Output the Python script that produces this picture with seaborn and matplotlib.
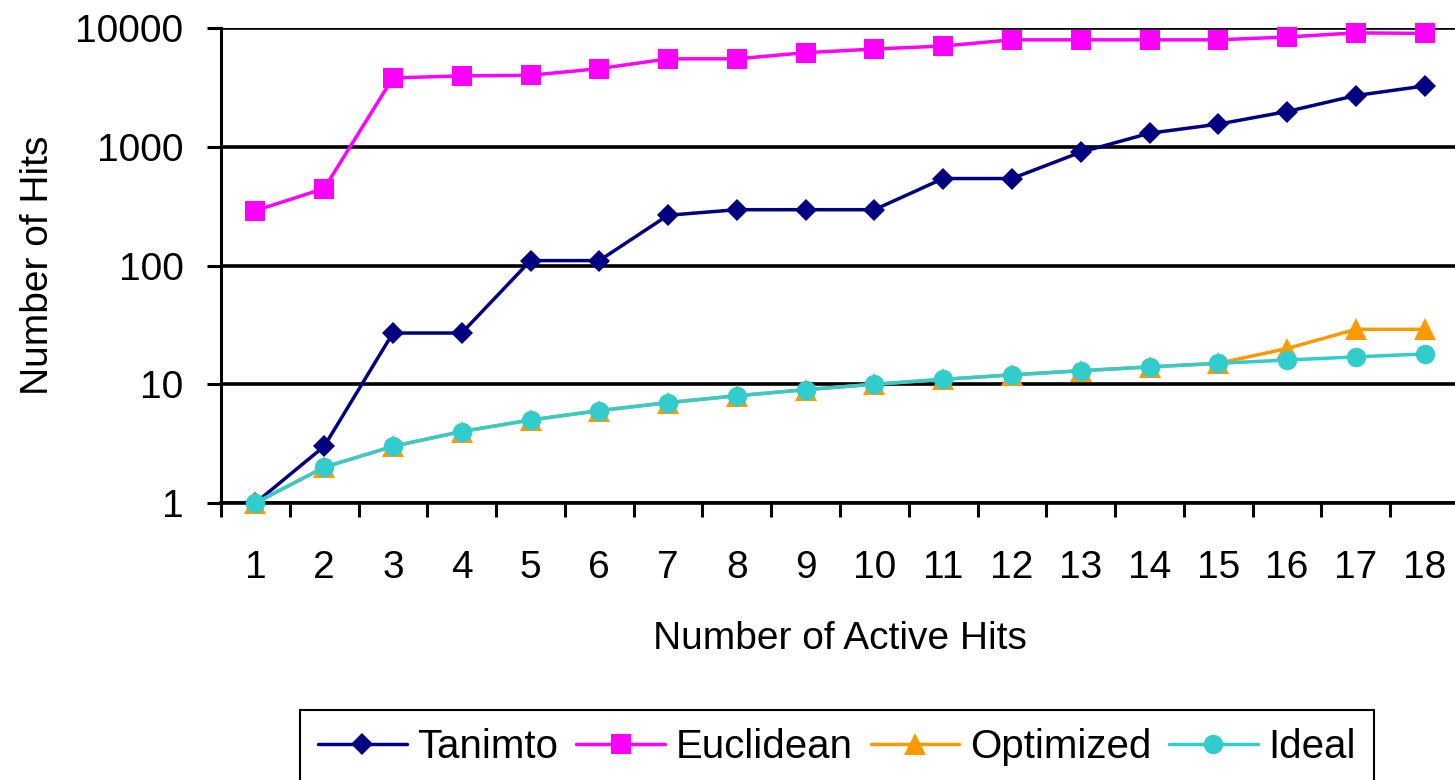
import numpy as np
import pandas as pd
import seaborn as sns
import matplotlib.pyplot as plt
from matplotlib.ticker import FixedLocator, NullFormatter

active_hits = list(range(1, 19))
tanimoto = [1, 3, 27, 27, 110, 110, 265, 295, 295, 295, 540, 540, 900, 1300, 1550, 1980, 2700, 3250]
euclidean = [290, 445, 3800, 3950, 4000, 4550, 5500, 5500, 6200, 6650, 7050, 7950, 7950, 7950, 7950, 8400, 9100, 9000]
optimized = [1, 2, 3, 4, 5, 6, 7, 8, 9, 10, 11, 12, 13, 14, 15, 20, 29, 29]
ideal = [1, 2, 3, 4, 5, 6, 7, 8, 9, 10, 11, 12, 13, 14, 15, 16, 17, 18]

series_names = ['Tanimto', 'Euclidean', 'Optimized', 'Ideal']
series_values = [tanimoto, euclidean, optimized, ideal]
colors = ['#000080', '#FF00FF', '#FF9900', '#33CCCC']
markers = ['D', 's', '^', 'o']
marker_sizes = [11, 14, 16, 14]

sns.set_style('white')
plt.rcParams['font.family'] = ['Liberation Sans', 'DejaVu Sans']
plt.rcParams['text.color'] = 'black'
plt.rcParams['axes.labelcolor'] = 'black'

W, H = 1455, 780
fig = plt.figure(figsize=(W / 100, H / 100), dpi=100)
# plot area: left axis at x=221, 18 categories of ~68.8 px, y from 28 to 503
ax = fig.add_axes([221 / W, 1 - 503 / H, 1238 / W, 475 / H])

for name, vals, col, mk, ms in zip(series_names, series_values, colors,
                                    markers, marker_sizes):
    df = pd.DataFrame({'x': active_hits, 'y': vals})
    sns.lineplot(data=df, x='x', y='y', ax=ax, color=col, marker=mk,
                 markersize=ms, markeredgewidth=0, linewidth=2.5,
                 label=name, clip_on=False, zorder=3)

ax.set_yscale('log')
ax.set_ylim(1, 10000)
ax.set_xlim(0.5, 18.5)

ax.set_yticks([1, 10, 100, 1000, 10000])
ax.set_yticklabels(['1', '10', '100', '1000', '10000'])
ax.yaxis.set_minor_locator(FixedLocator([]))
ax.yaxis.grid(True, which='major', color='black', linewidth=2.6)
ax.set_axisbelow(True)

ax.set_xticks(active_hits)
ax.set_xticklabels([str(v) for v in active_hits])
ax.xaxis.set_minor_locator(FixedLocator(np.arange(0.5, 19, 1.0)))
ax.xaxis.set_minor_formatter(NullFormatter())

ax.tick_params(axis='x', which='major', length=0, labelsize=28, pad=34,
               labelcolor='black')
ax.tick_params(axis='x', which='minor', length=10, width=2.2, color='black',
               direction='out', bottom=True)
ax.tick_params(axis='y', which='major', length=10, width=2.2, color='black',
               direction='out', left=True, labelsize=28, pad=17,
               labelcolor='black')

for side in ['top', 'right']:
    ax.spines[side].set_visible(False)
ax.spines['left'].set_color('black')
ax.spines['left'].set_linewidth(2.2)
ax.spines['bottom'].set_color('black')
ax.spines['bottom'].set_linewidth(2.6)

ax.set_xlabel('Number of Active Hits', fontsize=28, labelpad=25)
ax.set_ylabel('Number of Hits', fontsize=28, labelpad=14)

leg = ax.legend(loc='upper left', bbox_to_anchor=(300 / W, 70 / H),
                bbox_transform=fig.transFigure, ncol=4, fontsize=29,
                frameon=True, fancybox=False, handlelength=2.2,
                handletextpad=0.26, columnspacing=0.45, borderpad=0.45,
                borderaxespad=0)
leg.get_frame().set_edgecolor('black')
leg.get_frame().set_linewidth(1.5)
leg.get_frame().set_alpha(1)

fig.savefig('out.png', dpi=100)
